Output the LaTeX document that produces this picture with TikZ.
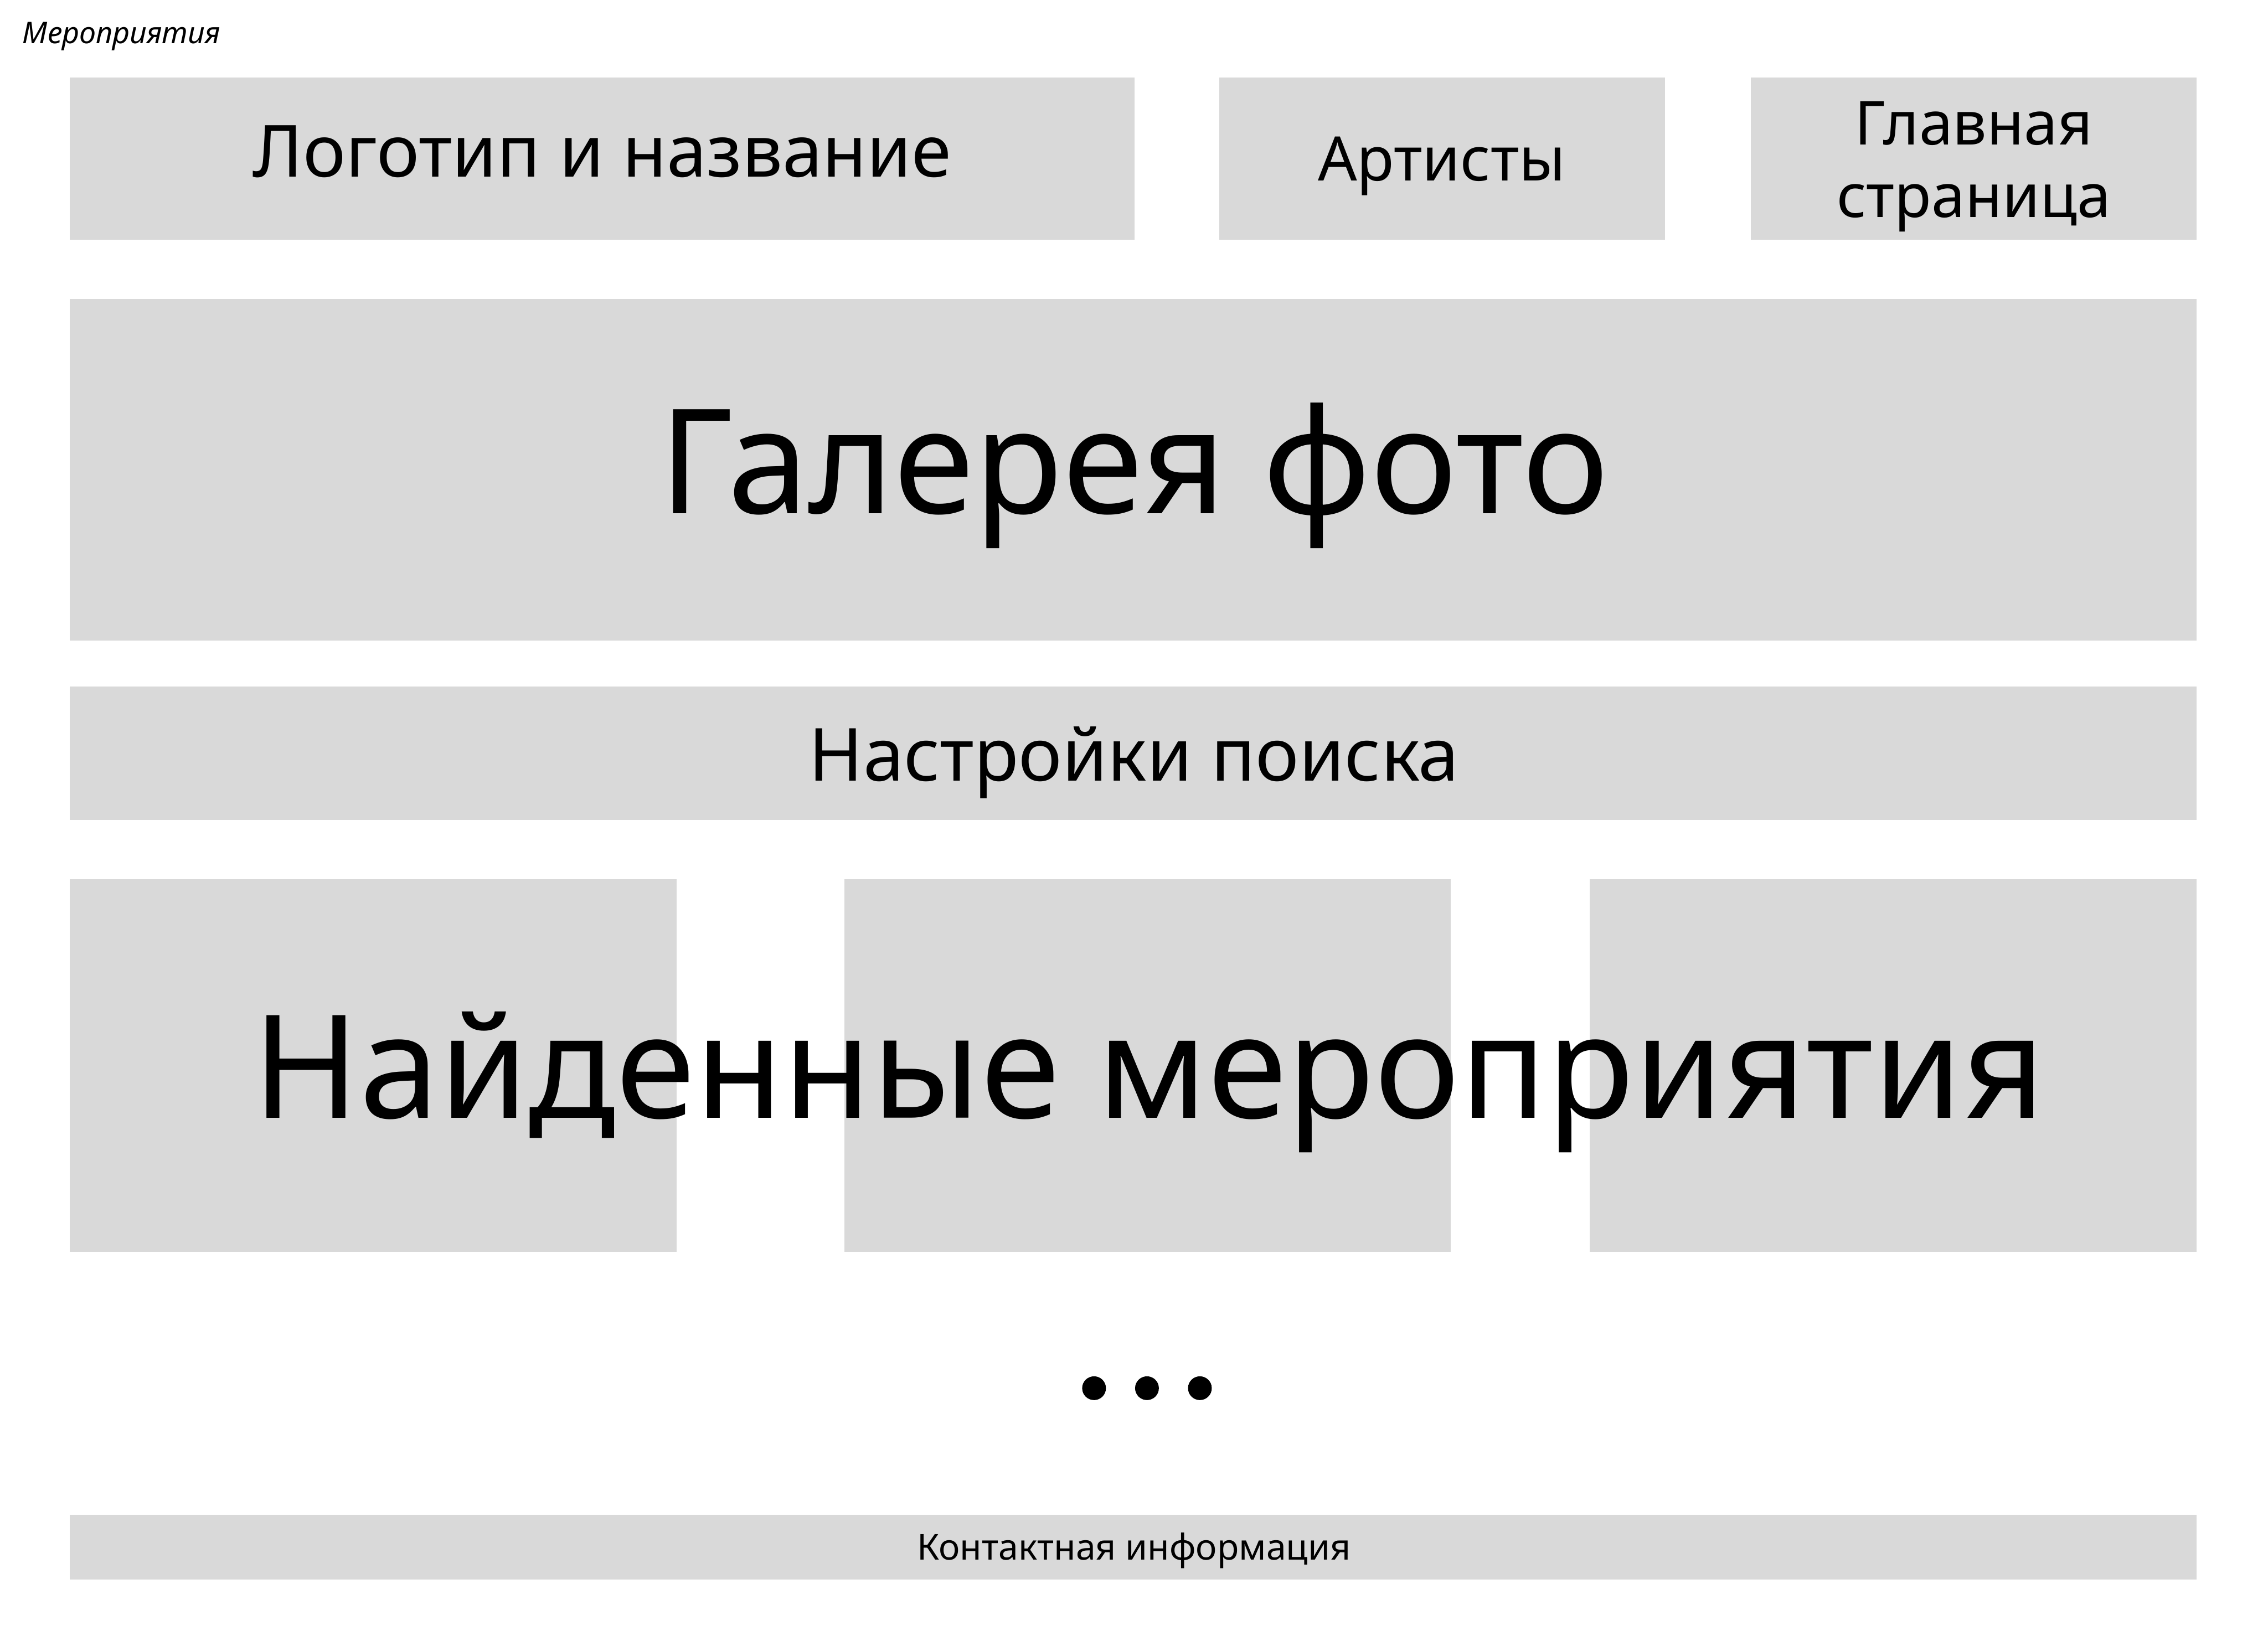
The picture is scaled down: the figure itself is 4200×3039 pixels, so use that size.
\documentclass[tikz,border=0pt]{standalone}
\usepackage{fontspec}
\setmainfont{Noto Sans}
\definecolor{boxgray}{HTML}{D9D9D9}
\tikzset{
  box/.style={fill=boxgray, draw=none, inner sep=0pt, outer sep=0pt},
  lbl/.style={anchor=base, inner sep=0pt, outer sep=0pt, text=black},
  dotmark/.style={circle, fill=black, draw=none, inner sep=0pt, minimum size=0.44cm}
}
\begin{document}
\begin{tikzpicture}[x=0.01cm, y=-0.01cm]
\useasboundingbox[fill=white] (0,0) rectangle (4200,3039);
% boxes
\node[box, minimum width=19.70cm, minimum height=3.00cm] (logo) at (1115,294) {};
\node[box, minimum width=8.25cm, minimum height=3.00cm] (artists) at (2670.5,294) {};
\node[box, minimum width=8.25cm, minimum height=3.00cm] (mainpage) at (3654.5,294) {};
\node[box, minimum width=39.37cm, minimum height=6.32cm] (gallery) at (2098.5,870) {};
\node[box, minimum width=39.37cm, minimum height=2.47cm] (search) at (2098.5,1395.5) {};
\node[box, minimum width=11.23cm, minimum height=6.90cm] (ev1) at (691.5,1973) {};
\node[box, minimum width=11.22cm, minimum height=6.90cm] (ev2) at (2125,1973) {};
\node[box, minimum width=11.23cm, minimum height=6.90cm] (ev3) at (3505.5,1973) {};
\node[box, minimum width=39.37cm, minimum height=1.20cm] (footer) at (2098.5,2865) {};
% texts
\node[lbl, anchor=base west] (title) at (42,81) {\fontsize{15.7pt}{19pt}\selectfont\itshape Мероприятия};
\node[lbl] (logotxt) at (1115,328) {\fontsize{37.9pt}{45pt}\selectfont Логотип и название};
\node[lbl] (artiststxt) at (2670,335) {\fontsize{32.3pt}{38pt}\selectfont Артисты};
\node[lbl] (maintxt1) at (3655,268) {\fontsize{31.9pt}{38pt}\selectfont Главная};
\node[lbl] (maintxt2) at (3655,402) {\fontsize{31.9pt}{38pt}\selectfont страница};
\node[lbl] (gallerytxt) at (2100,951) {\fontsize{76.7pt}{90pt}\selectfont Галерея фото};
\node[lbl] (searchtxt) at (2100,1446) {\fontsize{38.6pt}{46pt}\selectfont Настройки поиска};
\node[lbl] (eventstxt) at (2128,2071) {\fontsize{75.7pt}{90pt}\selectfont Найденные мероприятия};
\node[lbl] (footertxt) at (2100,2889) {\fontsize{18.8pt}{23pt}\selectfont Контактная информация};
% dots
\node[dotmark] (d1) at (2026,2571) {};
\node[dotmark] (d2) at (2124,2571) {};
\node[dotmark] (d3) at (2222,2571) {};
\end{tikzpicture}
\end{document}
